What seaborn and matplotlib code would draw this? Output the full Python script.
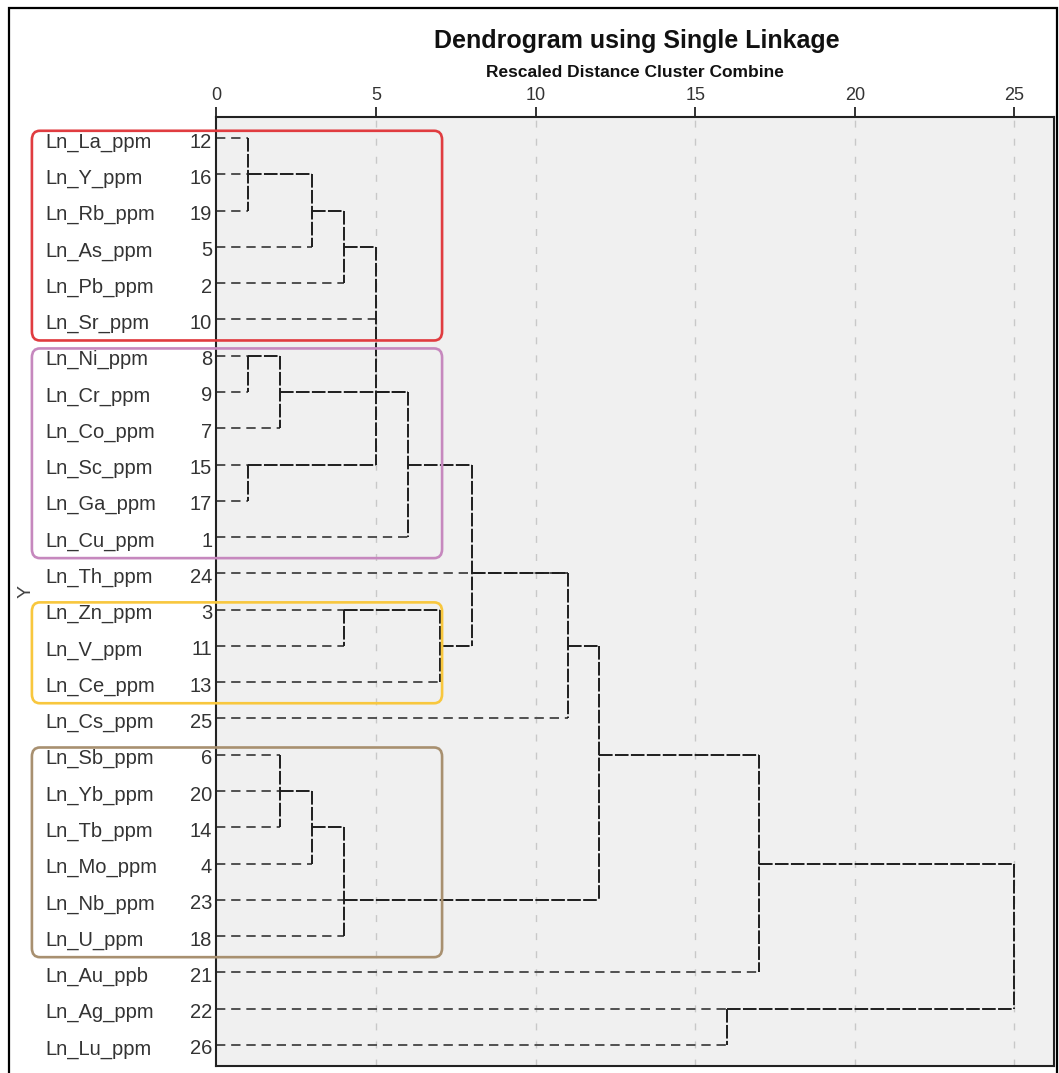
import numpy as np
import pandas as pd
import matplotlib
matplotlib.use('Agg')
import matplotlib.pyplot as plt
import matplotlib.transforms as mtransforms
from matplotlib.patches import FancyBboxPatch, Rectangle
import seaborn as sns

# leaf order as printed (top to bottom)
var_names = ['Ln_La_ppm', 'Ln_Y_ppm', 'Ln_Rb_ppm', 'Ln_As_ppm', 'Ln_Pb_ppm', 'Ln_Sr_ppm',
             'Ln_Ni_ppm', 'Ln_Cr_ppm', 'Ln_Co_ppm', 'Ln_Sc_ppm', 'Ln_Ga_ppm', 'Ln_Cu_ppm',
             'Ln_Th_ppm', 'Ln_Zn_ppm', 'Ln_V_ppm', 'Ln_Ce_ppm', 'Ln_Cs_ppm', 'Ln_Sb_ppm',
             'Ln_Yb_ppm', 'Ln_Tb_ppm', 'Ln_Mo_ppm', 'Ln_Nb_ppm', 'Ln_U_ppm', 'Ln_Au_ppb',
             'Ln_Ag_ppm', 'Ln_Lu_ppm']
case_ids = [12, 16, 19, 5, 2, 10, 8, 9, 7, 15, 17, 1, 24, 3, 11, 13, 25, 6, 20, 14, 4, 23, 18, 21, 22, 26]

# agglomeration steps: joined items (case ids or earlier steps M1..), rescaled distance,
# and the case whose row the joined branch continues on
merge_children = [
    [12, 16, 19], ['M1', 5], ['M2', 2], [8, 9], ['M4', 7], [15, 17],
    ['M3', 10, 'M6'], ['M7', 'M5', 1], [3, 11], ['M9', 13], ['M8', 'M10'],
    ['M11', 24, 25], [6, 20, 14], ['M13', 4], ['M14', 23, 18], ['M12', 'M15'],
    ['M16', 21], [22, 26], ['M17', 'M18'],
]
merge_dist = [1, 3, 4, 1, 2, 1, 5, 6, 4, 7, 8, 11, 2, 3, 4, 12, 17, 16, 25]
merge_anchor = [16, 19, 5, 8, 9, 15, 9, 15, 3, 11, 24, 11, 20, 14, 23, 6, 4, 22, None]

# hand drawn group boxes
box_first = [12, 8, 3, 6]
box_last = [10, 1, 13, 18]
box_colors = ['#E03C40', '#C688BE', '#F8C73E', '#A89070']

sns.set_style('white')
plt.rcParams['font.family'] = ['Liberation Sans', 'DejaVu Sans']

row_of = {c: i for i, c in enumerate(case_ids)}
node_row = dict(row_of)
node_x = {c: 0 for c in case_ids}

# walk the merges and collect the line segments
segs = []
for k, (kids, d, anchor) in enumerate(zip(merge_children, merge_dist, merge_anchor)):
    rows = []
    for kid in kids:
        kind = 'link' if isinstance(kid, str) else 'leaf'
        segs.append((f'h{k}_{kid}', kind, node_x[kid], node_row[kid]))
        segs.append((f'h{k}_{kid}', kind, d, node_row[kid]))
        rows.append(node_row[kid])
    segs.append((f'v{k}', 'link', d, min(rows)))
    segs.append((f'v{k}', 'link', d, max(rows)))
    node_x[f'M{k + 1}'] = d
    node_row[f'M{k + 1}'] = row_of[anchor] if anchor is not None else np.mean(rows)
df = pd.DataFrame(segs, columns=['seg', 'kind', 'x', 'y'])

W, H = 1059, 1073
fig = plt.figure(figsize=(W / 100, H / 100), dpi=100)
ax = fig.add_axes([216.4 / W, 1 - 1066 / H, (1054 - 216.4) / W, (1066 - 117) / H])
ax.set_facecolor('#f0f0f0')

for v in range(5, 26, 5):
    ax.axvline(v, color='#c8c8c8', lw=1, ls=(0, (5, 8)), zorder=0)

sns.lineplot(data=df[df.kind == 'leaf'], x='x', y='y', units='seg', estimator=None, sort=False,
             style='kind', dashes={'leaf': (4.8, 3)}, color='#505050', lw=1.4,
             legend=False, ax=ax, zorder=2)
sns.lineplot(data=df[df.kind == 'link'], x='x', y='y', units='seg', estimator=None, sort=False,
             style='kind', dashes={'link': (7, 1.2)}, color='#1e1e1e', lw=1.4,
             legend=False, ax=ax, zorder=3)

ax.set_xlim(0, 26.24)
ax.set_ylim(25.58, -0.58)
ax.set_xlabel('')
ax.set_ylabel('')
ax.xaxis.tick_top()
ax.set_xticks(range(0, 26, 5))
ax.tick_params(axis='x', length=7.2, width=1.3, color='#222222', labelsize=13,
               labelcolor='#333333', pad=2)
ax.set_yticks(range(len(case_ids)))
ax.set_yticklabels(case_ids)
ax.tick_params(axis='y', length=0, pad=3, labelsize=14.5, labelcolor='#333333')
shift = mtransforms.ScaledTranslation(0, -2 / 100, fig.dpi_scale_trans)
for lab in ax.get_yticklabels():
    lab.set_transform(lab.get_transform() + shift)
for s in ax.spines.values():
    s.set_color('#222222')
    s.set_linewidth(1.5)

trans = mtransforms.blended_transform_factory(fig.transFigure, ax.transData)
for i, name in enumerate(var_names):
    ax.text(45 / W, i + 0.26, name, transform=trans, ha='left', va='baseline',
            fontsize=14.5, color='#333333', clip_on=False)

for first, last, col in zip(box_first, box_last, box_colors):
    r0 = row_of[first] - 0.2
    r1 = row_of[last] + 0.58
    ax.add_patch(FancyBboxPatch((-5.78, r0), 7.07 + 5.78, r1 - r0,
                                boxstyle='round,pad=0,rounding_size=0.25', fill=False,
                                ec=col, lw=1.9, clip_on=False, zorder=6))

fig.text(26 / W, 1 - 591.5 / H, 'Y', rotation=90, ha='center', va='center',
         fontsize=14, color='#444444')
fig.text(637 / W, 1 - 48 / H, 'Dendrogram using Single Linkage', ha='center',
         va='baseline', fontsize=18, fontweight='bold', color='#111111')
fig.text(634.5 / W, 1 - 76.7 / H, 'Rescaled Distance Cluster Combine', ha='center',
         va='baseline', fontsize=12.5, fontweight='bold', color='#111111')

fig.add_artist(Rectangle((9 / W, -0.02), (1057 - 9) / W, 1 - 8 / H + 0.02,
                         transform=fig.transFigure, fill=False, lw=1.6, ec='black'))

fig.savefig('out.png', dpi=100)
